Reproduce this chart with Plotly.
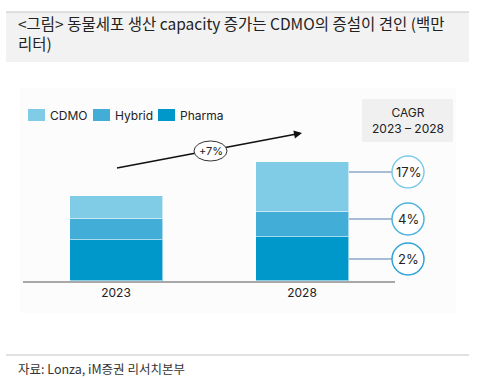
import plotly.graph_objects as go

years = ["2023", "2028"]
segments = ["Pharma", "Hybrid", "CDMO"]
pharma = [3.6, 3.9]
hybrid = [1.85, 2.2]
cdmo = [2.05, 4.4]
total_labels = ["7 – 8", "10 – 11"]
cagr_labels = ["17%", "4%", "2%"]
growth_label = "+7%"
colors = {"CDMO": "#80cbe5", "Hybrid": "#42aed8", "Pharma": "#0098cb"}
values = {"Pharma": pharma, "Hybrid": hybrid, "CDMO": cdmo}

W, H = 477, 379
L, R, T, B = 23, 82, 95, 98
PW = W - L - R
PH = H - T - B

def px(x):
    return (x - L) / PW

def py(y):
    return (H - B - y) / PH

fig = go.Figure()
for s in segments:
    fig.add_trace(go.Bar(
        x=years, y=values[s], name=s, width=0.5,
        marker=dict(color=colors[s], line=dict(color="rgba(255,255,255,0.55)", width=1)),
        hoverinfo="skip"))

shapes = []
ann = []
KFONT = "Noto Sans CJK KR, Noto Sans, sans-serif"
CFONT = "Inter, Roboto, sans-serif"

def text(x, y, t, size, family=CFONT, xanchor="center", yanchor="middle", align="center", color="#222"):
    ann.append(dict(xref="paper", yref="paper", x=px(x), y=py(y), xanchor=xanchor, yanchor=yanchor,
                    align=align, text=t, showarrow=False, font=dict(family=family, size=size, color=color)))

# title band
shapes.append(dict(type="rect", xref="paper", yref="paper", x0=px(6), x1=px(469), y0=py(62), y1=py(12),
                   fillcolor="#f2f2f2", line=dict(width=0), layer="below"))
shapes.append(dict(type="line", xref="paper", yref="paper", x0=px(6), x1=px(469), y0=py(12), y1=py(12),
                   line=dict(color="#c4c4c4", width=1)))
shapes.append(dict(type="line", xref="paper", yref="paper", x0=px(6), x1=px(469), y0=py(355), y1=py(355),
                   line=dict(color="#c4c4c4", width=1)))
# panel bg
shapes.append(dict(type="rect", xref="paper", yref="paper", x0=px(20), x1=px(456), y0=py(313), y1=py(88),
                   fillcolor="#fcfcfc", line=dict(width=0), layer="below"))

text(16, 23.5, "&lt;그림&gt; 동물세포 생산 capacity 증가는 CDMO의 증설이 견인 (백만", 15.5,
     family=KFONT, xanchor="left", align="left")
text(16, 42.5, "리터)", 15.5, family=KFONT, xanchor="left", align="left")
text(16, 368, "자료: Lonza, iM증권 리서치본부", 12.5, family=KFONT, xanchor="left", color="#333")

# legend
leg = [("CDMO", 28, 48), ("Hybrid", 93, 113), ("Pharma", 158, 178)]
for name, x0, tx in leg:
    shapes.append(dict(type="rect", xref="paper", yref="paper", x0=px(x0), x1=px(x0 + 17), y0=py(121), y1=py(109),
                       fillcolor=colors[name], line=dict(width=0)))
    text(tx, 115, name, 12, xanchor="left")

# totals
for i, yr in enumerate(years):
    tot = pharma[i] + hybrid[i] + cdmo[i]
    ann.append(dict(x=yr, y=tot, xanchor="center", yanchor="bottom", yshift=3, text=total_labels[i], showarrow=False,
                    font=dict(family=CFONT, size=12, color="#222")))

# growth arrow: line shape under the ellipse, arrowhead as short annotation
x_start, y_start, x_end, y_end = 117, 168, 302, 133
shapes.append(dict(type="line", xref="paper", yref="paper", x0=px(x_start), y0=py(y_start), x1=px(x_end - 4),
                   y1=py(y_end + 0.76), line=dict(color="#111", width=1.6)))
dx, dy = x_start - x_end, y_start - y_end
n = (dx * dx + dy * dy) ** 0.5
ann.append(dict(xref="paper", yref="paper", x=px(x_end), y=py(y_end), ax=dx / n * 10, ay=dy / n * 10,
                axref="pixel", ayref="pixel", text="", showarrow=True, arrowhead=2, arrowsize=1,
                arrowwidth=1.6, arrowcolor="#111"))
shapes.append(dict(type="circle", xref="paper", yref="paper", x0=px(194), x1=px(227), y0=py(161), y1=py(141),
                   fillcolor="white", line=dict(color="#333", width=1)))
text(210.5, 151, growth_label, 11)

# CAGR box
shapes.append(dict(type="rect", xref="paper", yref="paper", x0=px(362), x1=px(453), y0=py(142), y1=py(99),
                   fillcolor="#f0f0f0", line=dict(width=0)))
text(407.5, 120.5, "CAGR<br>2023 – 2028", 12)

# CAGR circles
circ = [(172, "#7fcbe6"), (219, "#4cb3dc"), (259, "#2ea3d6")]
for (cy, col), lab in zip(circ, cagr_labels):
    shapes.append(dict(type="line", xref="paper", yref="paper", x0=px(349), x1=px(392), y0=py(cy), y1=py(cy),
                       line=dict(color="#8aa8c8", width=1.5)))
    shapes.append(dict(type="circle", xref="paper", yref="paper", x0=px(392), x1=px(424), y0=py(cy + 16), y1=py(cy - 16),
                       fillcolor="white", line=dict(color=col, width=1.5)))
    text(408, cy, lab, 13)

fig.update_layout(
    width=W, height=H, margin=dict(l=L, r=R, t=T, b=B),
    barmode="stack", bargap=0, showlegend=False,
    paper_bgcolor="white", plot_bgcolor="rgba(0,0,0,0)",
    shapes=shapes, annotations=ann,
    xaxis=dict(type="category", range=[-0.5, 1.5], showline=True, linecolor="#a8a8a8", linewidth=2,
               ticks="", showgrid=False, tickfont=dict(family=CFONT, size=12, color="#222")),
    yaxis=dict(range=[0, PH / 11.33], visible=False, showgrid=False, zeroline=False),
)
fig.write_html("out.html", config={"displayModeBar": False},
               post_script="document.body.style.margin='0px';document.body.style.overflow='hidden';")
